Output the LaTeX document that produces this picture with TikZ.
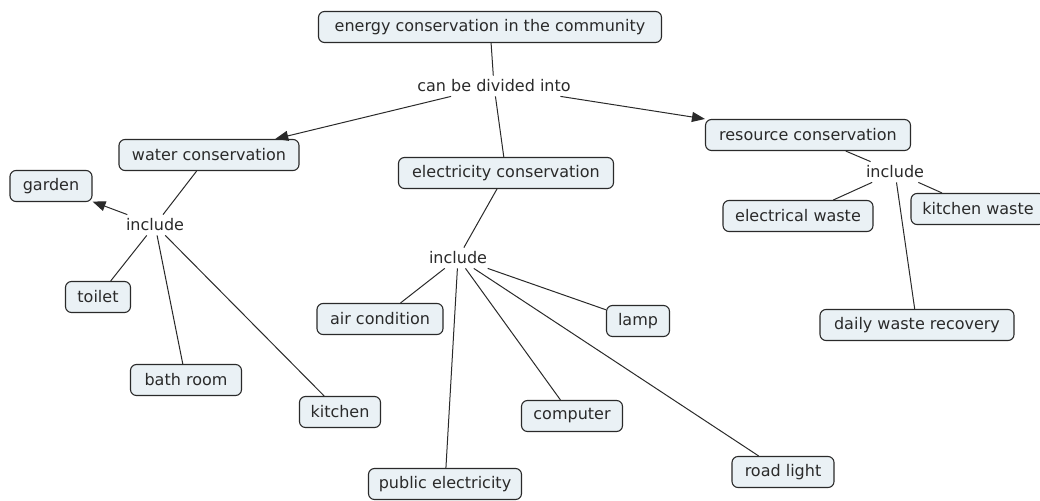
\documentclass[tikz,border=0pt]{standalone}
\usepackage{fontspec}
\setmainfont{DejaVu Sans}
\usetikzlibrary{arrows.meta}
\definecolor{boxfill}{HTML}{EAF1F5}
\definecolor{ink}{HTML}{2A2A2A}
\tikzset{
  concept/.style={draw=ink, fill=boxfill, rounded corners=6pt, line width=1.1pt,
    minimum height=31pt, inner xsep=8pt, text=ink, font=\fontsize{16}{18}\selectfont},
  linklabel/.style={inner sep=4pt, text=ink, font=\fontsize{16}{18}\selectfont},
  conn/.style={draw=ink, line width=1pt},
  arr/.style={conn, -{Triangle[length=13pt,width=10pt]}}
}
\begin{document}
\begin{tikzpicture}[x=1pt,y=-1pt]
\useasboundingbox (0,0) rectangle (1040,500);
\node[concept, minimum width=343pt] (top) at (490,27) {energy conservation in the community};
\node[linklabel] (cbdi) at (494,86) {can be divided into};
\node[concept, minimum width=180pt] (water) at (209,155) {water conservation};
\node[concept, minimum width=215pt] (elec) at (506,173) {electricity conservation};
\node[concept, minimum width=205pt] (res) at (808,135) {resource conservation};
\node[concept, minimum width=82pt] (garden) at (51,186) {garden};
\node[linklabel] (inca) at (155,225) {include};
\node[concept, minimum width=65pt] (toilet) at (98,297) {toilet};
\node[concept, minimum width=111pt] (bath) at (186,380) {bath room};
\node[concept, minimum width=81pt] (kitchen) at (340,412) {kitchen};
\node[linklabel] (incb) at (458,258) {include};
\node[concept, minimum width=126pt] (air) at (380,319) {air condition};
\node[concept, minimum width=63pt] (lamp) at (638,321) {lamp};
\node[concept, minimum width=101pt] (comp) at (572,416) {computer};
\node[concept, minimum width=153pt] (pub) at (445,484) {public electricity};
\node[concept, minimum width=102pt] (road) at (783,472) {road light};
\node[linklabel] (incc) at (895,172) {include};
\node[concept, minimum width=150pt] (ew) at (798,216) {electrical waste};
\node[concept, minimum width=134pt] (kw) at (978,209) {kitchen waste};
\node[concept, minimum width=194pt] (daily) at (917,325) {daily waste recovery};
\draw[conn] (top) -- (cbdi);
\draw[arr] (cbdi) -- (water);
\draw[conn] (cbdi) -- (elec);
\draw[arr] (cbdi) -- (res);
\draw[conn] (water) -- (inca);
\draw[arr] (inca) -- (garden);
\draw[conn] (inca) -- (toilet);
\draw[conn] (inca) -- (bath);
\draw[conn] (inca) -- (kitchen);
\draw[conn] (elec) -- (incb);
\draw[conn] (incb) -- (air);
\draw[conn] (incb) -- (lamp);
\draw[conn] (incb) -- (comp);
\draw[conn] (incb) -- (pub);
\draw[conn] (incb) -- (road);
\draw[conn] (res) -- (incc);
\draw[conn] (incc) -- (ew);
\draw[conn] (incc) -- (kw);
\draw[conn] (incc) -- (daily);
\end{tikzpicture}
\end{document}
